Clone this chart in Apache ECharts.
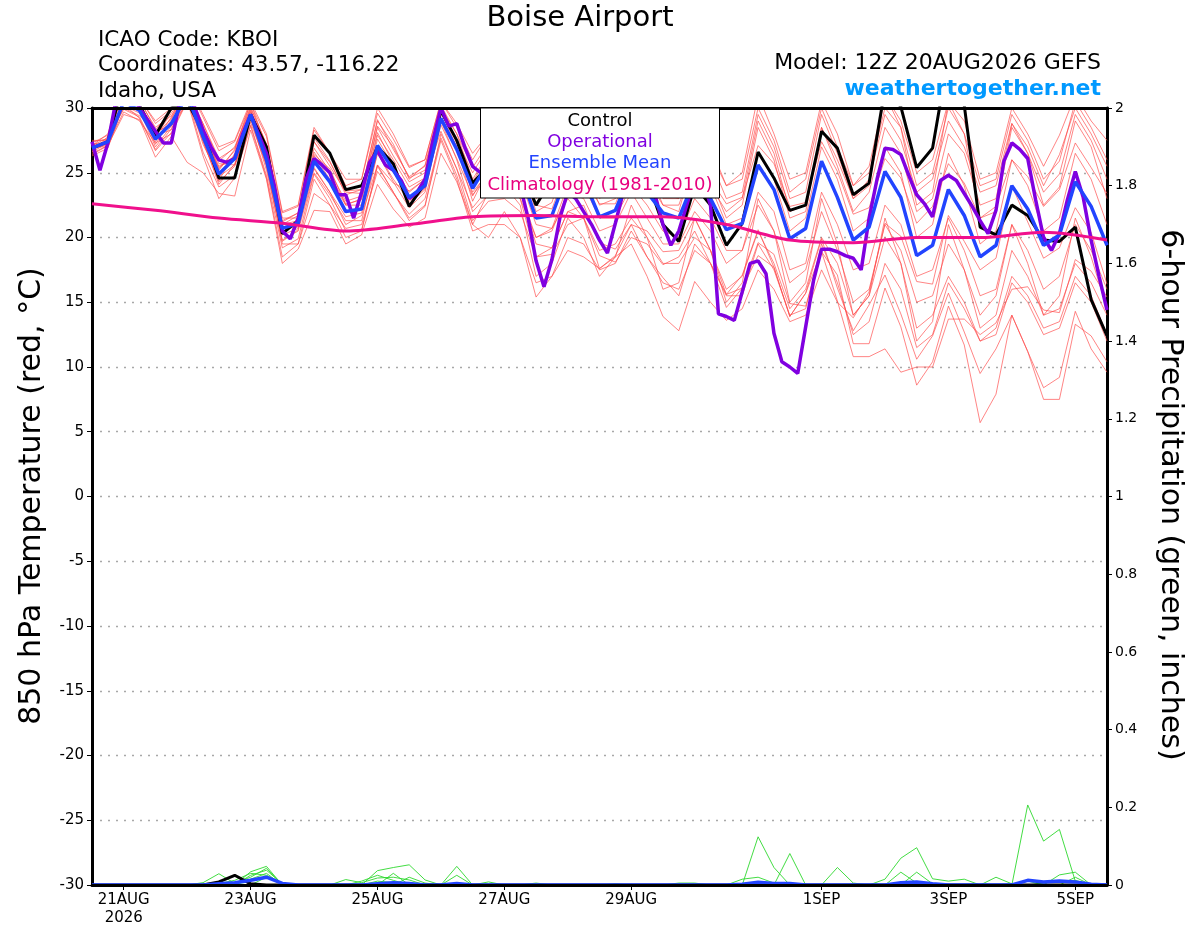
<!DOCTYPE html>
<html><head><meta charset="utf-8">
<script src="https://cdn.jsdelivr.net/npm/echarts@6/dist/echarts.min.js"></script>
<style>html,body{margin:0;padding:0;background:#fff}#chart{width:1200px;height:927px}</style>
</head><body><div id="chart"></div>
<script>
// hours relative to 21AUG 00Z; first point is 20AUG 12Z
const X_START = -12;
const tickHours = [0, 48, 96, 144, 192, 264, 312, 360];
const tickLabels = ['21AUG\n2026', '23AUG', '25AUG', '27AUG', '29AUG', '1SEP', '3SEP', '5SEP'];

// 6-hourly series (65 points)
const tempControl = [26.9, 27.4, 32.2, 30.2, 27.9, 30.0, 30.5, 28.2, 24.6, 24.6, 29.5, 27.0,
 20.3, 21.3, 27.9, 26.5, 23.7, 24.0, 27.0, 25.7, 22.4, 24.2, 29.8, 27.5, 24.2, 25.5, 26.5, 25.5,
 22.5, 24.5, 27.0, 26.0, 24.0, 25.0, 27.5, 24.5, 21.0, 19.7, 24.0, 22.5, 19.4, 21.1, 26.6, 24.6, 22.1, 22.5, 28.2, 26.9,
 23.3, 24.2, 31.5, 30.1, 25.4, 26.9, 34.0, 30.2, 20.8, 20.2, 22.5, 21.7, 19.8, 19.7, 20.8, 15.2, 12.4];
const tempMean = [26.9, 27.4, 30.5, 29.8, 27.6, 28.8, 31.0, 27.8, 24.9, 26.1, 29.5, 26.0,
 20.7, 21.1, 25.9, 24.3, 22.0, 22.2, 27.1, 25.2, 23.1, 24.0, 29.2, 26.8, 23.8, 25.8, 26.5, 25.0,
 21.5, 21.7, 25.0, 24.5, 21.6, 22.1, 25.0, 23.5, 21.9, 21.5, 24.5, 23.0, 20.6, 21.1, 25.6, 23.7, 19.9, 20.7, 25.9, 23.1,
 19.8, 20.8, 25.1, 23.1, 18.6, 19.4, 23.7, 21.7, 18.5, 19.4, 24.0, 22.2, 19.4, 20.2, 24.3, 22.4, 19.4];
// 3-hourly operational run (129 points)
const tempOper = [27.4, 25.2, 27.3, 30.5, 31.0, 31.0, 30.0, 29.1, 28.2, 27.3, 27.3, 30.3,
 31.0, 30.0, 28.3, 27.0, 26.0, 25.8, 26.1, 28.0, 29.5, 28.0, 26.5, 24.0,
 20.5, 19.9, 21.5, 24.5, 26.1, 25.6, 25.0, 23.3, 23.3, 21.5, 23.5, 25.8,
 26.7, 25.6, 25.2, 24.4, 23.0, 23.5, 24.5, 27.5, 30.0, 28.6, 28.8, 27.0,
 25.5, 25.0, 25.5, 26.0, 26.5, 25.5, 24.0, 21.5, 18.2, 16.2, 18.3, 21.5,
 23.5, 23.0, 22.0, 21.0, 19.8, 18.8, 21.1, 23.5, 25.0, 25.0, 24.0, 23.3,
 21.0, 19.4, 20.5, 22.5, 24.5, 24.5, 22.5, 14.1, 13.9, 13.6, 15.8, 18.0,
 18.2, 17.2, 12.6, 10.4, 10.0, 9.5, 13.1, 16.7, 19.1, 19.1, 18.9, 18.6,
 18.4, 17.5, 21.5, 24.5, 26.9, 26.8, 26.4, 24.8, 23.3, 22.6, 21.6, 24.4,
 24.8, 24.4, 23.4, 22.4, 21.3, 20.3, 22.1, 25.9, 27.3, 26.8, 26.1, 22.9,
 20.0, 19.0, 20.3, 22.9, 25.1, 23.1, 19.8, 17.0, 14.4];
// daily climatology (17 points, 12Z)
const tempClim = [22.6, 22.1, 21.5, 21.1, 20.5, 21.0, 21.6, 21.7, 21.6, 21.6, 21.0, 19.8, 19.6, 20.0, 20.0, 20.4, 19.8];

// ensemble members, 850 hPa temperature (6-hourly)
const m01 = [27.2, 27.2, 31.0, 30.0, 27.2, 29.1, 31.5, 27.5, 24.4, 26.5, 29.7, 25.7,
 19.7, 20.6, 26.4, 25.3, 22.5, 23.0, 28.1, 25.7, 22.6, 23.7, 29.7, 27.0, 22.8, 25.3, 25.5, 23.5,
 19.5, 19.2, 22.0, 22.5, 19.6, 19.1, 21.0, 18.5, 16.9, 15.5, 19.5, 18.0, 14.6, 16.1, 19.6, 18.7, 14.9, 14.7, 18.9, 17.1,
 11.8, 11.8, 16.1, 13.1, 8.6, 10.4, 14.7, 11.7, 5.7, 7.9, 14.0, 11.2, 8.4, 9.2, 14.3, 11.4, 9.6];
const m02 = [26.6, 27.8, 30.0, 29.4, 28.2, 28.6, 30.4, 28.3, 25.7, 25.6, 29.1, 26.6,
 21.2, 21.9, 25.4, 23.5, 21.0, 21.7, 25.6, 24.2, 23.6, 24.5, 28.2, 25.3, 22.3, 23.8, 24.0, 23.0,
 20.0, 20.7, 23.0, 21.5, 17.6, 18.6, 21.0, 20.5, 18.9, 19.0, 21.5, 19.0, 15.6, 17.1, 20.6, 17.7, 13.9, 15.7, 19.9, 16.1,
 12.8, 14.8, 17.1, 14.1, 10.6, 12.4, 15.7, 12.7, 9.5, 11.4, 14.0, 11.2, 7.5, 7.5, 13.3, 12.4, 10.4];
const m03 = [27.5, 27.5, 31.5, 30.4, 27.8, 29.6, 31.3, 28.8, 26.1, 26.9, 30.0, 27.2,
 21.5, 21.5, 27.4, 25.5, 23.5, 23.4, 28.6, 27.0, 24.6, 25.2, 30.0, 27.3, 23.3, 24.8, 25.0, 23.0,
 18.5, 18.7, 21.0, 21.5, 18.6, 18.1, 20.0, 19.5, 17.9, 18.5, 20.5, 18.0, 15.6, 16.1, 18.6, 17.7, 13.9, 15.7, 18.9, 15.1,
 10.8, 10.8, 11.4, 9.6, 10.0, 10.0, 13.7, 13.7, 12.5, 13.4, 16.0, 16.2, 14.4, 14.2, 18.3, 17.4, 15.4];
const m04 = [26.4, 27.1, 29.5, 29.1, 26.2, 27.8, 25.8, 25.0, 23.4, 23.2, 28.3, 24.5,
 18.0, 19.1, 22.1, 22.0, 19.5, 20.2, 24.1, 22.2, 20.8, 21.5, 26.5, 24.3, 21.0, 20.0, 22.0, 20.0,
 15.4, 17.0, 19.0, 18.5, 17.6, 18.5, 19.5, 17.0, 13.9, 12.8, 16.6, 15.0, 13.6, 14.5, 17.5, 16.0, 13.5, 14.0, 17.5, 15.0,
 13.8, 15.8, 21.1, 20.1, 16.6, 16.4, 21.7, 19.7, 17.5, 18.4, 24.0, 21.2, 18.4, 19.2, 22.3, 20.4, 16.4];
const m05 = [27.3, 27.9, 31.8, 30.8, 28.8, 29.8, 31.8, 29.3, 26.7, 27.4, 30.3, 27.8,
 21.9, 22.4, 28.3, 26.5, 24.0, 24.5, 29.6, 27.6, 25.4, 26.0, 30.5, 28.8, 26.5, 28.0, 29.0, 28.0,
 24.5, 25.0, 28.5, 27.0, 24.0, 25.0, 28.5, 27.0, 24.5, 24.5, 29.0, 27.0, 24.0, 25.0, 31.0, 28.0, 24.5, 25.0, 30.5, 28.0,
 24.0, 25.5, 31.0, 29.0, 25.0, 26.0, 30.5, 29.0, 24.5, 25.0, 30.0, 28.0, 25.5, 27.9, 31.0, 29.0, 27.5];
const m06 = [26.7, 27.6, 31.3, 30.5, 28.5, 29.4, 31.4, 28.8, 25.9, 27.0, 30.1, 27.2,
 21.3, 21.9, 27.4, 25.8, 23.6, 23.7, 29.1, 26.8, 24.7, 25.5, 30.0, 28.0, 25.4, 27.3, 28.3, 27.0,
 23.5, 24.0, 27.5, 26.5, 23.5, 24.5, 28.0, 26.2, 24.0, 23.5, 28.0, 26.0, 23.0, 23.5, 29.5, 27.0, 23.0, 23.5, 29.5, 26.5,
 23.0, 24.5, 29.5, 27.5, 23.5, 24.5, 29.0, 27.0, 23.5, 24.0, 28.8, 27.0, 24.0, 26.4, 30.0, 28.0, 25.5];
const m07 = [27.0, 27.0, 30.2, 29.6, 27.9, 28.3, 31.0, 27.2, 24.7, 25.6, 28.9, 25.6,
 20.2, 20.7, 25.3, 23.5, 21.6, 21.9, 26.5, 24.5, 22.8, 23.8, 28.7, 26.1, 23.2, 25.3, 26.5, 25.5,
 22.5, 22.2, 25.5, 24.5, 22.6, 22.6, 25.5, 24.5, 23.4, 23.0, 25.5, 24.5, 22.6, 23.1, 27.1, 25.7, 22.4, 22.7, 27.4, 25.1,
 21.8, 22.3, 26.1, 24.6, 21.1, 22.4, 25.7, 24.2, 21.5, 22.4, 26.0, 24.7, 22.4, 23.7, 27.3, 25.4, 23.4];
const m08 = [27.1, 27.7, 29.9, 29.3, 26.8, 28.4, 30.8, 26.6, 23.9, 24.8, 28.7, 24.8,
 19.2, 19.9, 24.9, 23.0, 20.5, 20.6, 25.6, 23.5, 21.3, 22.4, 28.0, 25.3, 21.3, 22.8, 23.0, 22.0,
 18.5, 19.2, 22.0, 21.5, 19.0, 19.5, 21.5, 20.0, 18.0, 18.0, 20.0, 19.0, 16.0, 17.0, 20.5, 18.0, 14.5, 16.0, 20.0, 18.0,
 14.0, 15.5, 20.0, 18.0, 13.0, 14.0, 17.0, 15.0, 12.0, 13.0, 17.0, 15.5, 13.0, 13.5, 17.0, 15.5, 12.5];
const m09 = [26.5, 27.1, 30.8, 30.2, 27.4, 29.3, 31.6, 28.1, 25.4, 26.3, 29.8, 26.8,
 21.0, 21.3, 26.9, 25.1, 22.8, 23.2, 28.5, 26.3, 24.3, 25.0, 29.7, 27.5, 25.0, 27.0, 28.0, 26.5,
 24.0, 24.5, 28.3, 26.5, 23.0, 24.0, 27.5, 25.5, 23.0, 23.0, 27.0, 24.0, 22.0, 23.0, 29.0, 26.5, 22.0, 22.5, 28.5, 25.5,
 22.0, 23.5, 28.5, 26.5, 22.0, 23.0, 28.0, 26.5, 22.5, 23.0, 28.8, 26.5, 23.5, 24.9, 29.5, 27.5, 24.5];
const m10 = [26.9, 27.5, 30.2, 29.8, 27.0, 28.6, 31.2, 27.4, 24.3, 25.5, 29.3, 25.2,
 19.8, 20.5, 25.0, 23.3, 21.3, 21.3, 26.5, 24.3, 22.3, 23.5, 29.0, 26.0, 22.0, 23.3, 24.0, 22.5,
 17.0, 18.0, 21.5, 20.0, 17.0, 18.5, 22.5, 20.0, 16.0, 16.5, 21.5, 19.0, 15.0, 16.5, 23.0, 20.5, 15.0, 16.5, 23.0, 19.5,
 14.0, 15.5, 21.5, 18.0, 12.0, 13.5, 21.0, 17.5, 14.0, 15.5, 21.0, 18.0, 14.0, 15.5, 21.5, 18.5, 14.5];
const m11 = [27.1, 28.0, 32.0, 30.7, 28.3, 29.8, 31.2, 28.6, 25.2, 26.8, 30.4, 27.0,
 21.0, 21.7, 27.7, 25.9, 23.3, 23.7, 29.0, 27.2, 24.5, 25.6, 30.2, 28.0, 24.5, 26.5, 27.5, 26.0,
 23.0, 24.0, 27.5, 26.5, 24.0, 25.0, 28.0, 25.5, 22.5, 22.0, 26.5, 24.5, 21.5, 22.5, 28.5, 26.0, 21.5, 22.0, 28.5, 26.0,
 23.0, 24.0, 31.0, 28.5, 22.5, 23.5, 30.5, 28.0, 21.5, 22.0, 28.5, 26.5, 22.5, 23.9, 29.0, 27.0, 23.0];
const m12 = [26.8, 27.2, 29.7, 29.0, 27.3, 28.0, 30.5, 27.5, 24.1, 25.7, 29.2, 25.5,
 19.5, 19.5, 23.4, 22.5, 20.7, 21.0, 25.1, 23.4, 21.8, 23.0, 27.7, 24.8, 21.0, 23.5, 24.5, 23.5,
 20.0, 20.5, 23.5, 23.0, 20.5, 21.0, 23.5, 21.5, 19.5, 19.5, 22.0, 20.5, 18.0, 19.0, 22.5, 20.5, 16.5, 17.5, 22.0, 19.0,
 15.0, 16.0, 21.0, 19.0, 15.0, 15.5, 19.5, 17.5, 13.0, 14.0, 19.0, 17.0, 14.0, 14.5, 18.0, 16.5, 14.0];
const m13 = [27.4, 27.6, 31.4, 30.7, 29.0, 30.0, 31.9, 29.5, 27.0, 27.5, 30.5, 28.0,
 22.0, 22.5, 28.5, 26.5, 24.5, 24.5, 30.0, 28.0, 25.5, 26.0, 30.5, 28.5, 26.0, 28.0, 29.0, 27.5,
 24.0, 24.5, 28.0, 27.0, 24.0, 24.5, 28.0, 26.5, 24.0, 24.0, 28.0, 26.5, 24.0, 24.5, 30.0, 27.5, 23.5, 24.5, 30.0, 27.0,
 24.0, 25.0, 30.0, 28.5, 24.0, 25.0, 30.0, 28.0, 24.0, 24.5, 29.5, 27.5, 24.5, 25.9, 30.5, 28.5, 26.0];
const m14 = [26.3, 26.9, 30.3, 29.2, 26.7, 28.1, 30.6, 26.3, 23.0, 24.6, 28.6, 24.6,
 18.5, 19.5, 24.5, 22.5, 20.0, 20.5, 25.5, 23.5, 21.5, 22.5, 27.5, 24.5, 20.5, 21.0, 21.0, 20.0,
 16.5, 17.0, 20.0, 19.5, 17.5, 18.0, 20.5, 18.5, 16.5, 16.0, 19.0, 18.0, 15.5, 15.5, 19.5, 17.5, 14.0, 14.5, 19.5, 16.5,
 12.5, 13.5, 18.0, 16.0, 11.5, 12.5, 16.5, 14.5, 12.0, 12.5, 16.5, 15.0, 12.5, 13.0, 16.5, 15.0, 12.0];
const m15 = [27.2, 27.4, 30.9, 30.1, 28.1, 28.8, 31.2, 28.2, 25.5, 26.2, 29.4, 26.5,
 20.7, 20.8, 26.3, 24.5, 22.5, 22.5, 27.6, 25.5, 23.5, 24.5, 29.2, 27.0, 23.5, 25.0, 25.5, 24.5,
 21.0, 20.7, 24.0, 24.0, 21.5, 21.5, 24.0, 22.5, 20.5, 20.0, 23.0, 21.5, 19.0, 19.0, 23.5, 22.0, 17.5, 18.0, 23.5, 21.0,
 17.5, 18.0, 22.5, 21.0, 17.0, 17.5, 21.5, 19.0, 15.5, 16.0, 21.0, 19.0, 16.0, 17.0, 21.0, 19.0, 16.0];
const m16 = [26.6, 27.3, 30.6, 29.9, 27.9, 29.2, 31.3, 28.0, 25.3, 26.7, 29.9, 26.3,
 20.4, 21.4, 26.6, 24.8, 22.6, 22.9, 27.9, 26.0, 23.9, 24.6, 29.6, 27.4, 24.3, 26.3, 27.2, 25.8,
 22.0, 22.7, 26.5, 25.5, 22.5, 23.0, 26.5, 24.5, 22.5, 22.5, 26.0, 24.0, 21.0, 21.5, 26.5, 24.5, 20.5, 21.5, 27.0, 24.5,
 20.5, 21.5, 27.0, 25.0, 20.0, 21.0, 26.5, 24.0, 19.5, 20.5, 26.0, 24.0, 20.5, 21.5, 26.5, 24.5, 21.0];
const tempMembers = [m01, m02, m03, m04, m05, m06, m07, m08, m09, m10, m11, m12, m13, m14, m15, m16];

// 6-hour precipitation, inches (6-hourly, 65 points)
const precipControl = [0,0,0,0,0,0,0,0,0.008,0.025, 0.003,0,0,0,0,0,0,0,0,0, 0,0,0,0,0,0,0,0,0,0,
 0,0,0,0,0,0,0,0,0,0, 0,0,0,0,0,0,0,0,0,0, 0,0,0,0,0,0,0,0,0,0, 0,0,0,0,0];
const precipMean = [0,0,0,0,0,0,0,0,0.003,0.006, 0.012,0.02,0.004,0,0,0,0,0,0.003,0.006,
 0.004,0,0,0.004,0,0,0,0,0,0, 0,0,0,0,0,0,0,0,0,0, 0,0.002,0.007,0.004,0.004,0,0,0,0,0,
 0,0.006,0.008,0.003,0,0,0,0,0,0.012, 0.008,0.01,0.008,0.002,0];
const g01 = [0,0,0,0,0,0,0,0.006,0.029,0.004, 0,0,0,0,0,0,0,0,0.037,0.045, 0.052,0.013,0,0,0,0,0,0,0,0,
 0,0,0,0,0,0,0,0,0,0, 0,0,0.124,0.045,0,0,0,0,0,0, 0,0,0,0,0,0,0,0,0,0.206, 0.113,0.143,0.01,0,0];
const g02 = [0,0,0,0,0,0,0,0,0,0, 0.034,0.048,0,0,0,0,0.014,0.006,0.018,0.02, 0.013,0,0,0.048,0,0,0,0,0,0,
 0,0,0,0,0,0,0,0,0,0, 0,0,0,0,0.081,0,0,0,0,0, 0.015,0.069,0.096,0.016,0.01,0.015,0,0.02,0.003,0, 0,0,0,0,0];
const g03 = [0,0,0,0,0,0,0,0,0,0, 0.025,0.038,0.003,0,0,0,0,0,0,0.03, 0,0,0,0.025,0,0,0,0,0,0,
 0,0,0,0,0,0,0,0,0,0, 0,0.015,0.02,0.005,0,0,0,0.045,0.005,0, 0,0,0,0,0,0,0,0,0,0, 0,0.026,0.033,0,0];
const g04 = [0,0,0,0,0,0,0,0,0,0.006, 0.02,0.043,0,0,0,0,0,0,0.01,0.006, 0,0,0,0,0,0.008,0,0,0,0,
 0,0,0,0,0,0,0,0,0,0, 0,0,0,0,0,0,0,0,0,0, 0,0.033,0.005,0,0,0,0,0,0,0, 0,0,0.02,0,0];
const g05 = [0,0,0,0,0,0,0,0,0,0, 0.015,0.03,0,0,0,0,0,0.01,0.025,0.012, 0,0,0,0,0,0,0,0,0.005,0,
 0,0,0,0,0,0,0,0.005,0.005,0, 0,0,0,0,0,0,0,0,0,0, 0,0,0.033,0.003,0,0,0,0,0,0, 0.005,0.01,0.012,0,0];
const g06 = [0,0,0,0,0,0,0,0,0,0, 0,0.02,0.005,0,0,0,0,0,0,0, 0.02,0.005,0,0,0,0,0,0,0,0,
 0,0,0,0.003,0,0,0,0,0,0, 0,0,0.006,0,0,0,0,0,0,0, 0,0,0,0,0,0,0,0,0,0.01, 0,0,0,0,0];
const g07 = [0,0,0,0,0,0,0,0,0.004,0.012, 0.03,0.025,0.004,0,0,0,0,0,0,0, 0,0,0,0,0,0,0,0,0,0,
 0,0,0,0,0,0,0,0,0,0, 0,0,0,0,0,0,0,0,0,0, 0,0,0,0,0,0,0,0,0,0, 0,0,0,0,0];
const precipMembers = [g01, g02, g03, g04, g05, g06, g07];

const FONT = '"DejaVu Sans", "Liberation Sans", Arial, sans-serif';
const C_RED = '#ff4a4a', C_GREEN = '#2ed82e', C_OPER = '#8000e0', C_MEAN = '#2244ff', C_CLIM = '#f0108c';

function pts(arr, step) { return arr.map((v, i) => [X_START + i * step, v]); }
function line(name, data, color, width, yIdx, extra) {
  return Object.assign({
    name: name, type: 'line', data: data, yAxisIndex: yIdx || 0, showSymbol: false, symbol: 'none',
    silent: true, animation: false, clip: true,
    lineStyle: { color: color, width: width }, itemStyle: { color: color }
  }, extra || {});
}

const series = [];
tempMembers.forEach((m, k) => series.push(line('ens' + k, pts(m, 6), C_RED, 0.8, 0, { z: 1, lineStyle: { color: C_RED, width: 0.8, opacity: 0.85 } })));
precipMembers.forEach((g, k) => series.push(line('pens' + k, pts(g, 6), C_GREEN, 0.9, 1, { z: 1 })));
series.push(line('precipControl', pts(precipControl, 6), '#000', 3, 1, { z: 3 }));
series.push(line('precipMean', pts(precipMean, 6), C_MEAN, 3.5, 1, { z: 3 }));
series.push(line('Control', pts(tempControl, 6), '#000', 3, 0, { z: 4 }));
series.push(line('Operational', pts(tempOper, 3), C_OPER, 3.5, 0, { z: 5 }));
series.push(line('Ensemble Mean', pts(tempMean, 6), C_MEAN, 3.5, 0, { z: 6 }));
series.push(line('Climatology', pts(tempClim, 24), C_CLIM, 3, 0, { z: 7, smooth: 0.3 }));

function txt(x, y, text, font, color, align, extra) {
  return Object.assign({
    type: 'text', x: x, y: y, z: 100,
    style: { text: text, fill: color, font: font + ' ' + FONT,
      align: align, textAlign: align, verticalAlign: 'middle', textVerticalAlign: 'middle' }
  }, extra || {});
}

const graphic = [
  txt(580, 18, 'Boise Airport', '29px', '#000', 'center'),
  txt(98, 40, 'ICAO Code: KBOI', '21.5px', '#000', 'left'),
  txt(98, 65, 'Coordinates: 43.57, -116.22', '21.5px', '#000', 'left'),
  txt(98, 91, 'Idaho, USA', '21.5px', '#000', 'left'),
  txt(1101, 63, 'Model: 12Z 20AUG2026 GEFS', '22px', '#000', 'right'),
  txt(1101, 89, 'weathertogether.net', 'bold 22px', '#0099ff', 'right'),
  txt(32, 496, '850 hPa Temperature (red, \u00B0C)', '30px', '#000', 'center', { rotation: Math.PI / 2 }),
  txt(1170, 495, '6-hour Precipitation (green, inches)', '30px', '#000', 'center', { rotation: -Math.PI / 2 }),
  { type: 'rect', z: 99, shape: { x: 480.5, y: 108, width: 239, height: 90 },
    style: { fill: '#fff', stroke: '#000', lineWidth: 1 } },
  txt(600, 121, 'Control', '18px', '#000', 'center'),
  txt(600, 142, 'Operational', '18px', C_OPER, 'center'),
  txt(600, 163, 'Ensemble Mean', '18px', C_MEAN, 'center'),
  txt(600, 185, 'Climatology (1981-2010)', '18px', '#e8007f', 'center')
];

const axisLine = { show: true, onZero: false, lineStyle: { color: '#000', width: 3 } };
const option = {
  backgroundColor: '#fff',
  animation: false,
  grid: { left: 92, right: 93, top: 108, bottom: 39, containLabel: false },
  xAxis: [
    { type: 'value', min: -12, max: 372, position: 'bottom', z: 10, axisLine: axisLine,
      axisTick: { show: true, customValues: tickHours, length: 5, inside: false, lineStyle: { color: '#000', width: 1 } },
      axisLabel: { customValues: tickHours, color: '#000', fontSize: 15, fontFamily: FONT, margin: 6, lineHeight: 18,
        formatter: function (v) { const k = tickHours.indexOf(Math.round(v)); return k >= 0 ? tickLabels[k] : ''; } },
      splitLine: { show: false } },
    { type: 'value', min: -12, max: 372, position: 'top', z: 10, axisLine: axisLine,
      axisTick: { show: false }, axisLabel: { show: false }, splitLine: { show: false } }
  ],
  yAxis: [
    { type: 'value', min: -30, max: 30, interval: 5, position: 'left', axisLine: axisLine,
      axisTick: { show: true, length: 5, lineStyle: { color: '#000', width: 1 } },
      axisLabel: { color: '#000', fontSize: 15, fontFamily: FONT, margin: 8 },
      splitLine: { show: true, lineStyle: { color: '#a8a8a8', type: [2, 6], width: 1.3 } } },
    { type: 'value', min: 0, max: 2, interval: 0.2, position: 'right', axisLine: axisLine,
      axisTick: { show: true, length: 5, lineStyle: { color: '#000', width: 1 } },
      axisLabel: { color: '#000', fontSize: 14, fontFamily: FONT, margin: 8,
        formatter: function (v) { return String(Math.round(v * 10) / 10); } },
      splitLine: { show: false } }
  ],
  series: series,
  graphic: graphic
};

const chart = echarts.init(document.getElementById('chart'), null, { renderer: 'canvas' });
chart.setOption(option);
</script></body></html>
